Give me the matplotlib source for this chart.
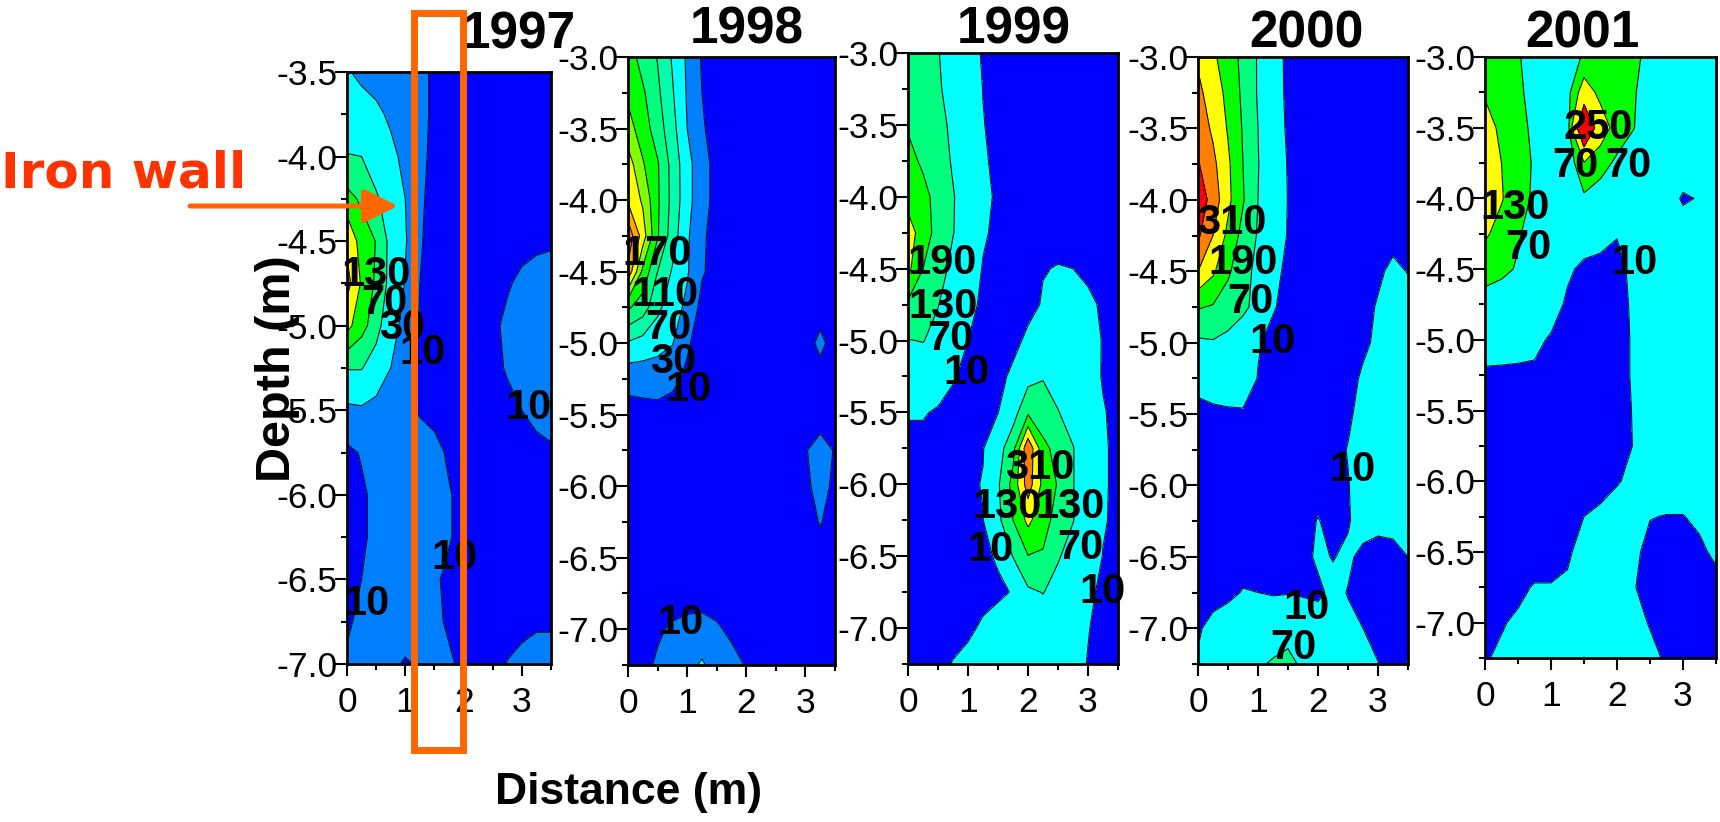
import numpy as np
import matplotlib
matplotlib.use('Agg')
import matplotlib.pyplot as plt
from matplotlib.patches import Rectangle, FancyArrowPatch

plt.rcParams['font.family'] = ['Liberation Sans', 'DejaVu Sans']

W, H = 1720, 822

years = ['1997', '1998', '1999', '2000', '2001']

# distance columns, depth rows
dist = [0, .25, .5, .75, 1, 1.25, 1.5, 1.75, 2, 2.25, 2.5, 2.75, 3, 3.25, 3.5]
depth_1997 = [-3.5 - .25 * i for i in range(15)]
depth_rest = [-3.0 - .25 * i for i in range(18)]

z_1997 = [
    [32, 25, 20, 18, 16, 13, 8, 5, 5, 5, 5, 5, 5, 5, 5],
    [45, 40, 35, 26, 18, 13, 8, 5, 5, 5, 5, 5, 5, 5, 5],
    [72, 70, 50, 36, 24, 13, 7, 5, 5, 5, 5, 5, 5, 5, 5],
    [110, 95, 75, 50, 30, 12, 6, 5, 5, 5, 5, 5, 5, 5, 5],
    [160, 115, 99, 60, 32, 11, 6, 5, 5, 5, 5, 5, 7, 8, 8.5],
    [185, 125, 95, 60, 28, 10, 6, 5, 5, 5, 5, 9, 12, 14, 15],
    [140, 110, 85, 40, 22, 9, 5, 5, 5, 5, 8, 12, 14, 15, 15],
    [72, 72, 50, 30, 18, 8, 5, 5, 5, 5, 7, 11, 13, 14, 14],
    [22, 25, 20, 15, 12, 9, 6, 5, 5, 5, 5, 7, 10, 12, 13],
    [7, 11, 14, 14, 15, 15, 14, 8, 5, 5, 5, 5, 6, 8, 9],
    [4, 8, 13, 15, 15, 15, 15, 11, 6, 5, 5, 5, 5, 5, 5],
    [4, 8, 13, 15, 15, 15, 15, 11, 6, 5, 5, 5, 5, 5, 5],
    [5, 10, 13, 15, 15, 15, 12, 7, 5, 5, 5, 5, 5, 5, 5],
    [8, 13, 15, 15, 15, 15, 13, 8, 5, 5, 5, 5, 8, 9, 9],
    [12, 13, 13, 12, 9, 11, 14, 12, 7, 6, 6, 10.5, 12, 13, 13],
]

z_1998 = [
    [100, 82, 69, 48, 27, 8, 3, 3, 3, 3, 3, 3, 3, 3, 3],
    [106, 93, 74, 52, 28, 10, 3, 3, 3, 3, 3, 3, 3, 3, 3],
    [118, 100, 80, 57, 30, 12, 3, 3, 3, 3, 3, 3, 3, 3, 3],
    [140, 112, 92, 63, 37, 17, 4, 3, 3, 3, 3, 3, 3, 3, 3],
    [147, 127, 93, 64, 37, 17, 4, 3, 3, 3, 3, 3, 3, 3, 3],
    [185, 140, 92, 60, 33, 13, 3, 3, 3, 3, 3, 3, 3, 3, 3],
    [165, 105, 70, 48, 32, 12, 3, 3, 3, 3, 3, 3, 3, 3, 3],
    [93, 80, 55, 38, 26, 4, 3, 3, 3, 3, 3, 3, 3, 3, 3],
    [48, 42, 36, 31, 12, 3, 3, 3, 3, 3, 3, 3, 3, 14, 3],
    [16, 18, 20, 14, 7, 3, 3, 3, 3, 3, 3, 3, 3, 3, 3],
    [3, 3, 3, 3, 3, 3, 3, 3, 3, 3, 3, 3, 3, 3, 3],
    [3, 3, 3, 3, 3, 3, 3, 3, 3, 3, 3, 3, 9, 16, 9],
    [3, 3, 3, 3, 3, 3, 3, 3, 3, 3, 3, 3, 7, 15, 7],
    [3, 3, 3, 3, 3, 3, 3, 3, 3, 3, 3, 3, 3, 11, 3],
    [3, 3, 3, 3, 3, 3, 3, 3, 3, 3, 3, 3, 3, 3, 3],
    [3, 3, 3, 3, 3, 3, 3, 3, 3, 3, 3, 3, 3, 3, 3],
    [3, 4, 8, 12, 15, 16, 12, 7, 3, 3, 3, 3, 3, 3, 3],
    [3, 6, 12, 16, 22, 33, 20, 15, 9, 3, 3, 3, 3, 3, 3],
]

z_1999 = [
    [95, 82, 72, 50, 28, 6, 3, 3, 3, 3, 3, 3, 3, 3, 3],
    [105, 90, 76, 52, 25, 9.5, 3, 3, 3, 3, 3, 3, 3, 3, 3],
    [125, 105, 85, 60, 30, 11, 3, 3, 3, 3, 3, 3, 3, 3, 3],
    [145, 122, 92, 65, 38, 14, 3, 3, 3, 3, 3, 3, 3, 3, 3],
    [170, 145, 113, 73, 45, 20, 4, 3, 3, 3, 3, 3, 3, 3, 3],
    [215, 165, 105, 72, 40, 14, 3, 3, 3, 3, 3, 3, 3, 3, 3],
    [205, 130, 95, 55, 30, 8, 3, 3, 3, 9, 11, 10, 4, 3, 3],
    [120, 100, 72, 40, 20, 4, 3, 3, 3, 12, 18, 18, 16, 6, 3],
    [68, 72, 52, 30, 10, 3, 3, 3, 15, 30, 40, 35, 25, 8, 3],
    [40, 35, 25, 12, 4, 3, 3, 15, 50, 68, 50, 35, 22, 8, 3],
    [12, 12, 7, 3, 3, 3, 9, 45, 120, 85, 72, 50, 30, 12, 3],
    [3, 3, 3, 3, 3, 8, 45, 110, 300, 150, 105, 72, 40, 14, 3],
    [3, 3, 3, 3, 3, 12, 62, 150, 280, 175, 125, 72, 40, 14, 3],
    [3, 3, 3, 3, 3, 9, 55, 130, 205, 150, 110, 72, 38, 13, 3],
    [3, 3, 3, 3, 3, 3, 14, 72, 128, 125, 75, 48, 30, 9, 3],
    [3, 3, 3, 3, 3, 2, 4, 12, 60, 72, 50, 30, 15, 5, 3],
    [3, 3, 3, 3, 5, 14, 25, 30, 35, 35, 30, 20, 11, 3, 3],
    [3, 3, 5, 11, 18, 22, 25, 28, 28, 28, 25, 18, 9, 3, 3],
]

z_2000 = [
    [240, 200, 160, 115, 65, 25, 3, 3, 3, 3, 3, 3, 3, 3, 3],
    [265, 220, 175, 118, 65, 25, 4, 3, 3, 3, 3, 3, 3, 3, 3],
    [285, 240, 185, 125, 70, 30, 5, 3, 3, 3, 3, 3, 3, 3, 3],
    [315, 265, 200, 130, 72, 33, 8, 3, 3, 3, 3, 3, 3, 3, 3],
    [350, 285, 205, 135, 70, 33, 9, 3, 3, 3, 3, 3, 3, 3, 3],
    [320, 250, 175, 110, 65, 30, 8, 3, 3, 3, 3, 3, 3, 3, 3],
    [250, 200, 140, 90, 55, 18, 4, 3, 3, 3, 3, 3, 6, 15, 9],
    [135, 125, 100, 80, 55, 12, 3, 3, 3, 3, 3, 3, 12, 20, 20],
    [60, 65, 55, 40, 12, 3, 3, 3, 3, 3, 3, 6, 14, 20, 20],
    [18, 25, 30, 25, 9, 3, 3, 3, 3, 3, 3, 13, 20, 20, 20],
    [3, 4, 5, 7, 3, 3, 3, 3, 3, 3, 6, 18, 20, 20, 20],
    [3, 3, 3, 3, 3, 3, 3, 3, 3, 3, 11, 20, 20, 20, 20],
    [3, 3, 3, 3, 3, 3, 3, 3, 3, 3, 9, 20, 20, 20, 20],
    [3, 3, 3, 3, 3, 3, 3, 3, 11, 4, 8, 20, 15, 15, 15],
    [3, 3, 3, 3, 3, 3, 3, 3, 14, 9, 14, 4, 3, 5, 10],
    [3, 4, 6, 11, 10, 8, 8, 7, 5, 16, 9, 3, 3, 3, 3],
    [8, 15, 20, 25, 28, 30, 50, 30, 25, 22, 15, 10, 4, 3, 3],
    [12, 20, 30, 40, 60, 78, 85, 60, 40, 25, 18, 14, 10.5, 4, 11],
]

z_2001 = [
    [100, 88, 74, 50, 30, 50, 75, 100, 95, 78, 60, 40, 35, 30, 30],
    [120, 100, 78, 55, 40, 50, 170, 110, 90, 74, 50, 40, 35, 30, 30],
    [170, 110, 85, 60, 40, 40, 400, 170, 100, 72, 40, 35, 30, 30, 30],
    [190, 130, 90, 65, 40, 30, 125, 90, 60, 40, 30, 25, 20, 20, 20],
    [195, 135, 90, 62, 40, 30, 60, 45, 35, 25, 20, 18, 8, 11, 18],
    [140, 105, 75, 50, 35, 30, 20, 16, 11, 18, 20, 20, 18, 18, 18],
    [90, 82, 65, 45, 30, 13, 6, 5, 4, 15, 20, 20, 20, 20, 20],
    [50, 40, 35, 25, 18, 7, 3, 3, 3, 13, 18, 20, 20, 20, 20],
    [25, 20, 18, 14, 8, 3, 3, 3, 3, 12, 18, 20, 20, 20, 20],
    [5, 6, 6, 7, 3, 3, 3, 3, 3, 12, 18, 20, 20, 20, 20],
    [3, 3, 3, 3, 3, 3, 3, 3, 3, 11, 18, 20, 20, 20, 20],
    [3, 3, 3, 3, 3, 3, 3, 3, 3, 10.5, 18, 20, 20, 20, 20],
    [3, 3, 3, 3, 3, 3, 3, 3, 9, 13, 18, 18, 18, 18, 18],
    [3, 3, 3, 3, 3, 3, 10, 14, 16, 18, 10.5, 9.5, 9.5, 13, 18],
    [3, 3, 3, 3, 3, 8, 15, 16, 16, 13, 6, 4, 4, 7, 13],
    [3, 3, 7, 11, 11, 12, 15, 16, 15, 11, 4, 3, 3, 3, 5],
    [5, 9, 12, 14, 15, 16, 18, 18, 18, 15, 9, 3, 3, 3, 3],
    [9, 12, 15, 18, 20, 20, 20, 20, 20, 18, 14, 8, 3, 3, 3],
]

lev_1997 = [0, 10, 30, 70, 100, 130, 170, 1000]
col_1997 = ['#0000ff', '#007fff', '#00ffff', '#00ff7f', '#00ff00', '#ffff00', '#ff7f00']
lev_1998 = [0, 10, 30, 50, 70, 90, 110, 130, 150, 170, 190, 1000]
col_1998 = ['#0000ff', '#007fff', '#00ffff', '#00ffaa', '#00ff7f', '#00ff00', '#7fff00',
            '#ffff00', '#ffaa00', '#ff7f00', '#ff0000']
lev_mid = [0, 10, 70, 130, 190, 250, 310, 1000]
col_mid = ['#0000ff', '#00ffff', '#00ff7f', '#00ff00', '#ffff00', '#ff7f00', '#ff0000']
lev_2001 = [0, 10, 70, 130, 250, 1000]
col_2001 = ['#0000ff', '#00ffff', '#00ff00', '#ffff00', '#ff0000']

# contour labels: text, x px, y px
labels_1997 = [('130', 376, 275), ('70', 384, 303), ('30', 402, 328), ('10', 422, 353),
               ('10', 528, 408), ('10', 454, 558), ('10', 366, 604)]
labels_1998 = [('170', 657, 254), ('110', 665, 295), ('70', 668, 328), ('30', 673, 362),
               ('10', 688, 390), ('10', 680, 623)]
labels_1999 = [('190', 942, 263), ('130', 943, 307), ('70', 950, 339), ('10', 967, 373),
               ('310', 1040, 468), ('130', 1007, 507), ('130', 1070, 507), ('10', 990, 550),
               ('70', 1080, 548), ('10', 1102, 592)]
labels_2000 = [('310', 1232, 223), ('190', 1243, 263), ('70', 1250, 302), ('10', 1273, 342),
               ('10', 1353, 470), ('10', 1306, 608), ('70', 1293, 648)]
labels_2001 = [('250', 1598, 128), ('70', 1575, 166), ('70', 1628, 166), ('130', 1515, 208),
               ('70', 1528, 248), ('10', 1634, 263)]

# left, right, top, bottom in pixels
boxes = [(347, 551, 72, 664), (628, 835, 57, 665), (908, 1118, 53, 664),
         (1198, 1408, 57, 664), (1485, 1716, 57, 658)]
title_pos = [(519, 35), (747, 30), (1014, 30), (1306, 34), (1582, 34)]

grids = [z_1997, z_1998, z_1999, z_2000, z_2001]
levels = [lev_1997, lev_1998, lev_mid, lev_mid, lev_2001]
colors = [col_1997, col_1998, col_mid, col_mid, col_2001]
all_labels = [labels_1997, labels_1998, labels_1999, labels_2000, labels_2001]


def fx(px):
    return px / W


def fy(py):
    return 1 - py / H


fig = plt.figure(figsize=(W / 100, H / 100), dpi=100)

for i, year in enumerate(years):
    l, r, t, b = boxes[i]
    ax = fig.add_axes([fx(l), fy(b), (r - l) / W, (b - t) / H])
    depth = depth_1997 if i == 0 else depth_rest
    z = np.array(grids[i], dtype=float)
    ax.contourf(dist, depth, z, levels=levels[i], colors=colors[i])
    ax.contour(dist, depth, z, levels=levels[i][1:-1], colors='#101010', linewidths=0.8)
    ax.set_xlim(0, 3.5)
    if i == 0:
        ax.set_ylim(-7.0, -3.5)
        yt = [-3.5, -4.0, -4.5, -5.0, -5.5, -6.0, -6.5, -7.0]
    else:
        ax.set_ylim(-7.25, -3.0)
        yt = [-3.0, -3.5, -4.0, -4.5, -5.0, -5.5, -6.0, -6.5, -7.0]
    ax.set_yticks(yt)
    ax.set_yticklabels(['%.1f' % v for v in yt])
    ax.set_yticks(np.arange(ax.get_ylim()[0], ax.get_ylim()[1] + .01, .25), minor=True)
    ax.set_xticks([0, 1, 2, 3])
    ax.set_xticks([.5, 1.5, 2.5, 3.5], minor=True)
    ax.tick_params(which='major', length=8.5, width=1.5, labelsize=25.5, direction='out')
    ax.tick_params(which='minor', length=4, width=1.5, direction='out')
    ax.tick_params(axis='y', which='major', pad=-1.5)
    ax.tick_params(axis='x', which='major', pad=7.5)
    for s in ax.spines.values():
        s.set_linewidth(2)
    fig.text(fx(title_pos[i][0]), fy(title_pos[i][1]), year, fontsize=37, fontweight='bold',
             ha='center', va='center')
    for txt, px, py in all_labels[i]:
        fig.text(fx(px), fy(py), txt, fontsize=30, fontweight='bold', ha='center', va='center',
                 color='black', zorder=5)

fig.text(fx(277), fy(369), 'Depth (m)', fontsize=35, fontweight='bold', rotation=90,
         ha='center', va='center', zorder=4)
fig.text(fx(629), fy(792), 'Distance (m)', fontsize=32, fontweight='bold',
         ha='center', va='center')
fig.text(fx(1), fy(188), 'Iron wall', fontsize=36, fontweight='bold', color='#ff3300',
         family='DejaVu Sans', ha='left', va='baseline')

# the orange frame and arrow sit on top of the panels
fig.add_artist(Rectangle((fx(413.5), fy(749.5)), 49 / W, 736 / H, transform=fig.transFigure,
                         fill=False, edgecolor='#ff6600', linewidth=5, zorder=10))
fig.add_artist(FancyArrowPatch((fx(190), fy(206)), (fx(398), fy(206)), transform=fig.transFigure,
                               arrowstyle='-|>,head_length=2.6,head_width=1.3', mutation_scale=8,
                               color='#ff6600', linewidth=3.6, shrinkA=0, shrinkB=0, zorder=10))

fig.savefig('out.png', dpi=100)
